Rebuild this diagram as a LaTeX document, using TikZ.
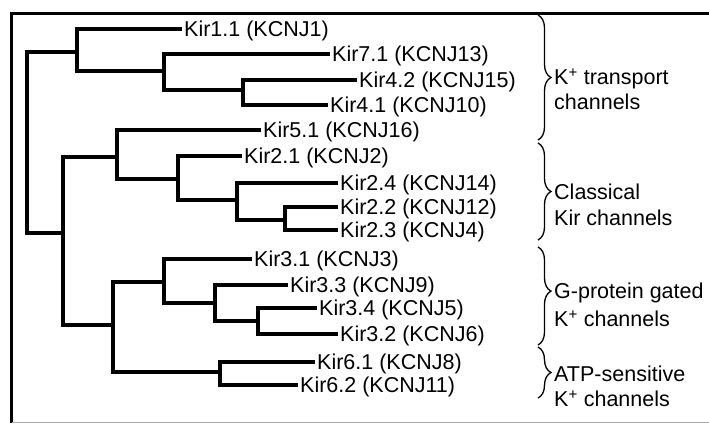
\documentclass[tikz,border=0pt]{standalone}
\usepackage{fontspec}
\setmainfont{Liberation Sans}
\usetikzlibrary{decorations.pathreplacing}
\begin{document}
\begin{tikzpicture}[x=1pt,y=-1pt,
  tree/.style={line width=3.6pt, line join=miter},
  leaf/.style={anchor=west, inner xsep=2pt, inner ysep=0pt, text height=15.4pt, text depth=0pt, font=\fontsize{21.5}{26}\selectfont},
  grp/.style={leaf, inner xsep=1pt},
  brc/.style={decorate, decoration={brace, amplitude=13pt, aspect=#1}, line width=1.3pt},
  brc/.default=0.5,
  frameline/.style={line width=2.2pt},
  baseline/.style={line width=1.5pt, gray!70}
]
\useasboundingbox (0,0) rectangle (709,424);
% frame
\draw[frameline] (709,13.5) -- (11.5,13.5) -- (11.5,423);
\draw[baseline] (11.5,422.5) -- (709,422.5);

% leaves
\node[leaf] (L1) at (182,29) {Kir1.1 (KCNJ1)};
\node[leaf] (L2) at (330,54) {Kir7.1 (KCNJ13)};
\node[leaf] (L3) at (357,80) {Kir4.2 (KCNJ15)};
\node[leaf] (L4) at (328,105) {Kir4.1 (KCNJ10)};
\node[leaf] (L5) at (261,130) {Kir5.1 (KCNJ16)};
\node[leaf] (L6) at (242,156) {Kir2.1 (KCNJ2)};
\node[leaf] (L7) at (338,183) {Kir2.4 (KCNJ14)};
\node[leaf] (L8) at (338,207) {Kir2.2 (KCNJ12)};
\node[leaf] (L9) at (338,230) {Kir2.3 (KCNJ4)};
\node[leaf] (L10) at (252,259) {Kir3.1 (KCNJ3)};
\node[leaf] (L11) at (288,285) {Kir3.3 (KCNJ9)};
\node[leaf] (L12) at (317,308) {Kir3.4 (KCNJ5)};
\node[leaf] (L13) at (338,334) {Kir3.2 (KCNJ6)};
\node[leaf] (L14) at (315,362) {Kir6.1 (KCNJ8)};
\node[leaf] (L15) at (298,385) {Kir6.2 (KCNJ11)};

% internal nodes
\coordinate (root) at (27,142);
\coordinate (nT) at (77,52);
\coordinate (n74) at (164,71);
\coordinate (n44) at (243,90);
\coordinate (nX) at (63,233);
\coordinate (n51) at (117,157);
\coordinate (n21) at (178,179);
\coordinate (n24) at (237,200);
\coordinate (n22) at (285,220);
\coordinate (nG) at (113,325);
\coordinate (n31) at (164,282);
\coordinate (n33) at (215,303);
\coordinate (n34) at (258,321);
\coordinate (n6) at (220,372);

% branches
\draw[tree] (nT) -| (root) |- (nX);
\draw[tree] (L1.west) -| (nT) |- (n74);
\draw[tree] (L2.west) -| (n74) |- (n44);
\draw[tree] (L3.west) -| (n44) |- (L4.west);
\draw[tree] (n51) -| (nX) |- (nG);
\draw[tree] (L5.west) -| (n51) |- (n21);
\draw[tree] (L6.west) -| (n21) |- (n24);
\draw[tree] (L7.west) -| (n24) |- (n22);
\draw[tree] (L8.west) -| (n22) |- (L9.west);
\draw[tree] (n31) -| (nG) |- (n6);
\draw[tree] (L10.west) -| (n31) |- (n33);
\draw[tree] (L11.west) -| (n33) |- (n34);
\draw[tree] (L12.west) -| (n34) |- (L13.west);
\draw[tree] (L14.west) -| (n6) |- (L15.west);

% braces
\draw[brc] (538,15) -- (538,140);
\draw[brc] (538,143) -- (538,240);
\draw[brc=0.45] (538,247) -- (538,345);
\draw[brc] (538,347) -- (538,398);

% group labels
\node[grp] (g1a) at (553,77) {K\textsuperscript{+} transport};
\node[grp] (g1b) at (553,102) {channels};
\node[grp] (g2a) at (553,192) {Classical};
\node[grp] (g2b) at (553,218) {Kir channels};
\node[grp] (g3a) at (553,291) {G-protein gated};
\node[grp] (g3b) at (553,319) {K\textsuperscript{+} channels};
\node[grp] (g4a) at (553,374) {ATP-sensitive};
\node[grp] (g4b) at (553,399) {K\textsuperscript{+} channels};
\end{tikzpicture}
\end{document}
